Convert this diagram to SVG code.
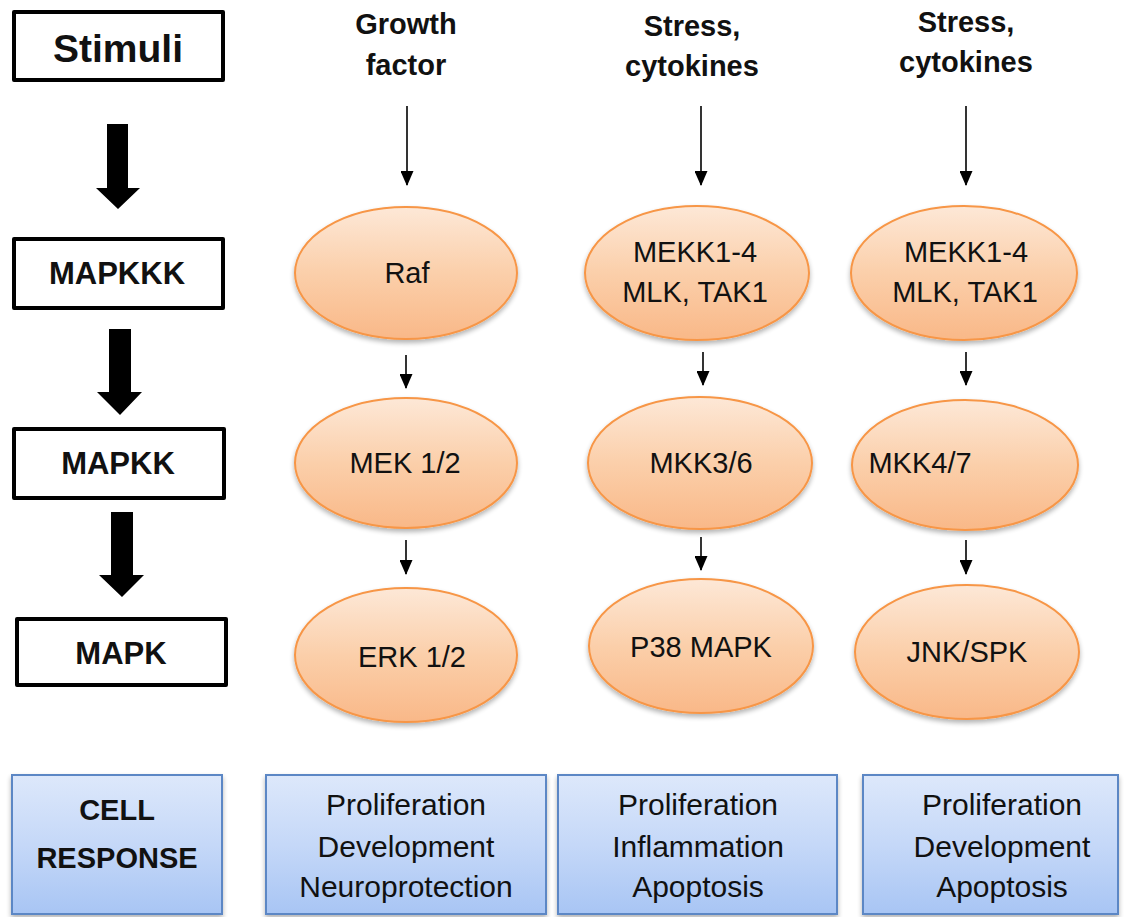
<svg xmlns="http://www.w3.org/2000/svg" width="1125" height="917" viewBox="0 0 1125 917">
<defs>
<linearGradient id="og" x1="0" y1="0" x2="0" y2="1">
<stop offset="0" stop-color="#FDE8D7"/>
<stop offset="0.5" stop-color="#FBCFAA"/>
<stop offset="1" stop-color="#F9B888"/>
</linearGradient>
<linearGradient id="bg" x1="0" y1="0" x2="0" y2="1">
<stop offset="0" stop-color="#DDE8FB"/>
<stop offset="0.5" stop-color="#C5D8F8"/>
<stop offset="1" stop-color="#A8C5F4"/>
</linearGradient>
<filter id="sh" x="-20%" y="-20%" width="140%" height="150%">
<feGaussianBlur in="SourceAlpha" stdDeviation="2.5"/>
<feOffset dx="0" dy="3" result="b"/>
<feComponentTransfer><feFuncA type="linear" slope="0.3"/></feComponentTransfer>
<feMerge><feMergeNode/><feMergeNode in="SourceGraphic"/></feMerge>
</filter>
<marker id="ah" viewBox="0 0 15 13" refX="14" refY="6.5" markerWidth="15" markerHeight="13" markerUnits="userSpaceOnUse" orient="auto">
<path d="M0,0 L15,6.5 L0,13 Z" fill="#000"/>
</marker>
</defs>
<style>
.lb{fill:#fff;stroke:#000;stroke-width:4;stroke-linejoin:round}
.el{fill:url(#og);stroke:#F79646;stroke-width:2;filter:url(#sh)}
.rb{fill:url(#bg);stroke:#5B87C5;stroke-width:2;filter:url(#sh)}
.t{font-family:"Liberation Sans",Arial,sans-serif;fill:#111;text-anchor:middle}
.b{font-weight:bold}
.ln{stroke:#000;stroke-width:1.6;fill:none;marker-end:url(#ah)}
.ba{fill:#000}
</style>
<rect width="1125" height="917" fill="#fff"/>

<g id="stimuli"><rect class="lb" x="14" y="12" width="209" height="68"/><text class="t b" x="118" y="62" font-size="39">Stimuli</text></g>
<g id="mapkkk"><rect class="lb" x="14" y="239" width="209" height="69"/><text class="t b" x="117" y="284" font-size="31">MAPKKK</text></g>
<g id="mapkk"><rect class="lb" x="14" y="429" width="210" height="69"/><text class="t b" x="118" y="474" font-size="31">MAPKK</text></g>
<g id="mapk"><rect class="lb" x="17" y="619" width="209" height="66"/><text class="t b" x="121" y="664" font-size="31">MAPK</text></g>

<g id="hdr1"><text class="t b" x="406" y="34" font-size="29">Growth</text><text class="t b" x="406" y="75" font-size="29">factor</text></g>
<g id="hdr2"><text class="t b" x="692" y="36" font-size="29">Stress,</text><text class="t b" x="692" y="76" font-size="29">cytokines</text></g>
<g id="hdr3"><text class="t b" x="966" y="32" font-size="29">Stress,</text><text class="t b" x="966" y="72" font-size="29">cytokines</text></g>

<g id="raf"><ellipse class="el" cx="406" cy="273" rx="111" ry="66"/><text class="t" x="407" y="283" font-size="29">Raf</text></g>
<g id="mekk2"><ellipse class="el" cx="697" cy="273" rx="112" ry="67"/><text class="t" x="695" y="262" font-size="29">MEKK1-4</text><text class="t" x="695" y="302" font-size="29">MLK, TAK1</text></g>
<g id="mekk3"><ellipse class="el" cx="964" cy="273" rx="113" ry="67"/><text class="t" x="966" y="262" font-size="29">MEKK1-4</text><text class="t" x="965" y="302" font-size="29">MLK, TAK1</text></g>

<g id="mek"><ellipse class="el" cx="406" cy="463" rx="111" ry="65"/><text class="t" x="405" y="473" font-size="29">MEK 1/2</text></g>
<g id="mkk36"><ellipse class="el" cx="700" cy="463" rx="112" ry="66"/><text class="t" x="701" y="473" font-size="29">MKK3/6</text></g>
<g id="mkk47"><ellipse class="el" cx="965" cy="465" rx="113" ry="65"/><text class="t" x="920" y="473" font-size="29">MKK4/7</text></g>

<g id="erk"><ellipse class="el" cx="406" cy="655" rx="111" ry="67"/><text class="t" x="412" y="667" font-size="29">ERK 1/2</text></g>
<g id="p38"><ellipse class="el" cx="701" cy="646" rx="112" ry="67"/><text class="t" x="701" y="657" font-size="29">P38 MAPK</text></g>
<g id="jnk"><ellipse class="el" cx="967" cy="652" rx="112" ry="67"/><text class="t" x="967" y="662" font-size="29">JNK/SPK</text></g>

<g id="cellresp"><rect class="rb" x="12" y="775" width="210" height="139"/><text class="t b" x="117" y="820" font-size="29">CELL</text><text class="t b" x="117" y="868" font-size="29">RESPONSE</text></g>
<g id="resp1"><rect class="rb" x="266" y="775" width="280" height="139"/><text class="t" x="406" y="815" font-size="30">Proliferation</text><text class="t" x="406" y="857" font-size="30">Development</text><text class="t" x="406" y="897" font-size="30">Neuroprotection</text></g>
<g id="resp2"><rect class="rb" x="558" y="775" width="279" height="139"/><text class="t" x="698" y="815" font-size="30">Proliferation</text><text class="t" x="698" y="857" font-size="30">Inflammation</text><text class="t" x="698" y="897" font-size="30">Apoptosis</text></g>
<g id="resp3"><rect class="rb" x="863" y="775" width="255" height="139"/><text class="t" x="1002" y="815" font-size="30">Proliferation</text><text class="t" x="1002" y="857" font-size="30">Development</text><text class="t" x="1002" y="897" font-size="30">Apoptosis</text></g>

<g id="connectors">
<polygon class="ba" points="107,124 128,124 128,188 140,188 118,209 96,188 107,188"/>
<polygon class="ba" points="109,329 131,329 131,392 142,392 120,415 97,392 109,392"/>
<polygon class="ba" points="111,512 133,512 133,575 144,575 122,597 99,575 111,575"/>
<line class="ln" x1="407" y1="106" x2="407" y2="185"/>
<line class="ln" x1="701" y1="106" x2="701" y2="185"/>
<line class="ln" x1="966" y1="106" x2="966" y2="185"/>
<line class="ln" x1="406" y1="355" x2="406" y2="388"/>
<line class="ln" x1="703" y1="352" x2="703" y2="385"/>
<line class="ln" x1="966" y1="352" x2="966" y2="385"/>
<line class="ln" x1="406" y1="540" x2="406" y2="574"/>
<line class="ln" x1="701" y1="537" x2="701" y2="570"/>
<line class="ln" x1="966" y1="540" x2="966" y2="574"/>
</g>
</svg>
